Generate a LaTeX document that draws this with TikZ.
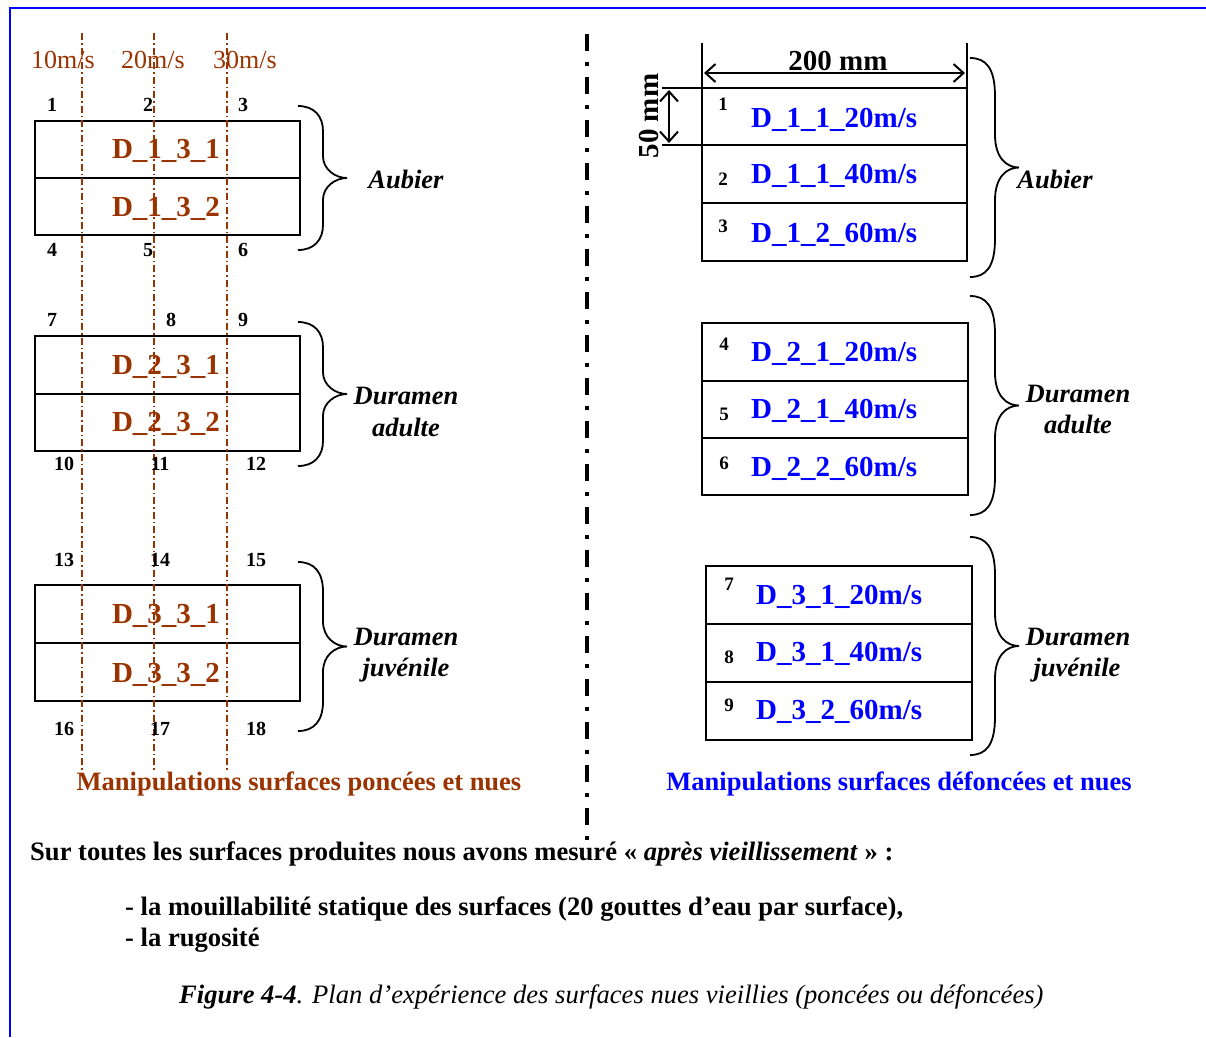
\documentclass[tikz,border=0pt]{standalone}
\usepackage{fontspec}
\setmainfont{Liberation Serif}
\usetikzlibrary{arrows.meta}
\definecolor{brn}{RGB}{153,51,0}
\definecolor{blu}{RGB}{0,0,255}
\newcommand\fsz[1]{\fontsize{#1}{#1}\selectfont}
\newcommand\curly[4]{%
 \pgfmathsetmacro\cbm{(#2+#3)/2}%
 \pgfmathsetmacro\cbx{#1+25}%
 \pgfmathsetmacro\cbu{#2+0.35*(\cbm-#2)}%
 \pgfmathsetmacro\cbv{\cbm-0.3*(\cbm-#2)}%
 \pgfmathsetmacro\cbw{\cbm+0.3*(#3-\cbm)}%
 \pgfmathsetmacro\cbz{#3-0.35*(#3-\cbm)}%
 \draw[brc] (#1,#2) .. controls (#1+16,#2) and (\cbx,#2+10) .. (\cbx,\cbu) -- (\cbx,\cbv)
   .. controls (\cbx,\cbm-9) and (#4-12,\cbm) .. (#4,\cbm)
   .. controls (#4-12,\cbm) and (\cbx,\cbm+9) .. (\cbx,\cbw) -- (\cbx,\cbz)
   .. controls (\cbx,#3-10) and (#1+16,#3) .. (#1,#3);}
\begin{document}
\begin{tikzpicture}[x=1pt,y=-1pt,
  every node/.style={inner sep=0pt, anchor=base},
  num/.style={font=\fsz{20}\bfseries},
  rnum/.style={font=\fsz{19}\bfseries},
  spd/.style={font=\fsz{26}, text=brn},
  dl/.style={font=\fsz{29}\bfseries, text=brn},
  dr/.style={font=\fsz{29}\bfseries, text=blu, anchor=base west},
  grp/.style={font=\fsz{26.5}\bfseries\itshape},
  man/.style={font=\fsz{26.5}\bfseries},
  txt/.style={font=\fsz{26.6}\bfseries, anchor=base west},
  sbox/.style={draw, line width=2.5pt},
  brc/.style={line width=1.8pt},
  speedline/.style={draw=brn, line width=1.3pt, dash pattern=on 7pt off 3pt on 1.5pt off 3pt},
  divider/.style={line width=3.5pt, dash pattern=on 17pt off 11pt on 4pt off 11pt},
  dimarrow/.style={line width=2pt, {Straight Barb[length=10pt,width=18pt,line width=2pt]}-{Straight Barb[length=10pt,width=18pt,line width=2pt]}},
  ext/.style={line width=2pt}]
\useasboundingbox (0,0) rectangle (1206,1037);
% border
\draw[blu, line width=2pt] (1206,8) -- (10,8) -- (10,1037);

% ---------- left side ----------
\draw[sbox] (35,121) rectangle (300,235); \draw[sbox] (35,178) -- (300,178);
\draw[sbox] (35,336) rectangle (300,451); \draw[sbox] (35,394) -- (300,394);
\draw[sbox] (35,585) rectangle (300,701); \draw[sbox] (35,643) -- (300,643);

\node[dl] (l131) at (166,158) {D\_1\_3\_1};
\node[dl] (l132) at (166,216) {D\_1\_3\_2};
\node[dl] (l231) at (166,374) {D\_2\_3\_1};
\node[dl] (l232) at (166,431) {D\_2\_3\_2};
\node[dl] (l331) at (166,623) {D\_3\_3\_1};
\node[dl] (l332) at (166,682) {D\_3\_3\_2};

\foreach \x in {82,154,227} \draw[speedline] (\x,33) -- (\x,770);

\node[spd] (s10) at (63,68) {10m/s};
\node[spd] (s20) at (153,68) {20m/s};
\node[spd] (s30) at (245,68) {30m/s};

\node[num] (n1) at (52,111) {1};
\node[num] (n2) at (148,111) {2};
\node[num] (n3) at (243,111) {3};
\node[num] (n4) at (52,256) {4};
\node[num] (n5) at (148,256) {5};
\node[num] (n6) at (243,256) {6};
\node[num] (n7) at (52,326) {7};
\node[num] (n8) at (171,326) {8};
\node[num] (n9) at (243,326) {9};
\node[num] (n10) at (64,470) {10};
\node[num] (n11) at (160,470) {11};
\node[num] (n12) at (256,470) {12};
\node[num] (n13) at (64,566) {13};
\node[num] (n14) at (160,566) {14};
\node[num] (n15) at (256,566) {15};
\node[num] (n16) at (64,735) {16};
\node[num] (n17) at (160,735) {17};
\node[num] (n18) at (256,735) {18};

\curly{298}{106}{250}{347}
\curly{298}{322}{466}{347}
\curly{298}{562}{731}{347}
\node[grp] (la1) at (406,188) {Aubier};
\node[grp] (la2) at (406,404) {Duramen};
\node[grp] (la3) at (406,436) {adulte};
\node[grp] (la4) at (406,645) {Duramen};
\node[grp] (la5) at (406,676) {juvénile};

\node[man, text=brn] (manl) at (299,790) {Manipulations surfaces poncées et nues};

% ---------- divider ----------
\draw[divider] (587,34) -- (587,842);

% ---------- right side ----------
\draw[sbox] (702,88) rectangle (967,261); \draw[sbox] (702,145) -- (967,145); \draw[sbox] (702,203) -- (967,203);
\draw[sbox] (702,323) rectangle (968,495); \draw[sbox] (702,381) -- (968,381); \draw[sbox] (702,438) -- (968,438);
\draw[sbox] (706,566) rectangle (972,740); \draw[sbox] (706,624) -- (972,624); \draw[sbox] (706,682) -- (972,682);

% dimensions
\draw[ext] (702,43) -- (702,88);
\draw[ext] (967,43) -- (967,88);
\draw[ext] (662,88) -- (702,88);
\draw[ext] (662,145) -- (702,145);
\coordinate (wL) at (704,73);
\coordinate (wR) at (965,73);
\coordinate (hT) at (669,90);
\coordinate (hB) at (669,143);
\draw[dimarrow] (wL) -- (wR);
\draw[dimarrow] (hT) -- (hB);
\node[font=\fsz{29}\bfseries] (w200) at (838,70) {200 mm};
\node[font=\fsz{29}\bfseries, rotate=90] (h50) at (658,116) {50 mm};

\node[rnum] (r1) at (723,110) {1};
\node[rnum] (r2) at (723,185) {2};
\node[rnum] (r3) at (723,232) {3};
\node[rnum] (r4) at (724,350) {4};
\node[rnum] (r5) at (724,420) {5};
\node[rnum] (r6) at (724,469) {6};
\node[rnum] (r7) at (729,590) {7};
\node[rnum] (r8) at (729,663) {8};
\node[rnum] (r9) at (729,711) {9};

\node[dr] (d1) at (751,127) {D\_1\_1\_20m/s};
\node[dr] (d2) at (751,183) {D\_1\_1\_40m/s};
\node[dr] (d3) at (751,242) {D\_1\_2\_60m/s};
\node[dr] (d4) at (751,361) {D\_2\_1\_20m/s};
\node[dr] (d5) at (751,418) {D\_2\_1\_40m/s};
\node[dr] (d6) at (751,476) {D\_2\_2\_60m/s};
\node[dr] (d7) at (756,604) {D\_3\_1\_20m/s};
\node[dr] (d8) at (756,661) {D\_3\_1\_40m/s};
\node[dr] (d9) at (756,719) {D\_3\_2\_60m/s};

\curly{970}{58}{277}{1019}
\curly{970}{296}{515}{1019}
\curly{970}{537}{755}{1019}
\node[grp] (ra1) at (1055,188) {Aubier};
\node[grp] (ra2) at (1078,402) {Duramen};
\node[grp] (ra3) at (1078,433) {adulte};
\node[grp] (ra4) at (1078,645) {Duramen};
\node[grp] (ra5) at (1077,676) {juvénile};

\node[man, text=blu] (manr) at (899,790) {Manipulations surfaces défoncées et nues};

% ---------- bottom text ----------
\node[txt] (t1) at (30,860) {Sur toutes les surfaces produites nous avons mesuré « \textit{après vieillissement} » :};
\node[txt] (t2) at (125,915) {- la mouillabilité statique des surfaces (20 gouttes d’eau par surface),};
\node[txt] (t3) at (125,946) {- la rugosité};
\node[font=\fsz{26.6}\itshape, anchor=base west] (cap) at (179,1003) {\textbf{Figure 4-4}. Plan d’expérience des surfaces nues vieillies (poncées ou défoncées)};
\end{tikzpicture}
\end{document}
